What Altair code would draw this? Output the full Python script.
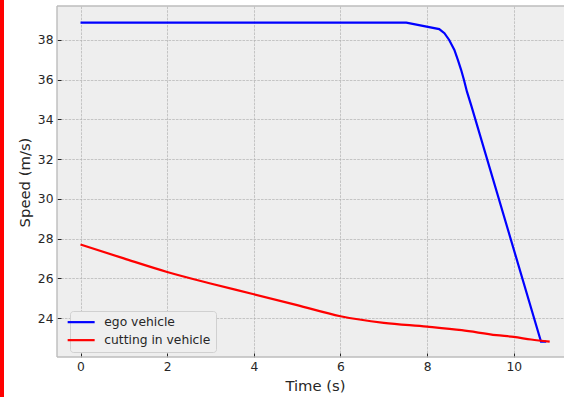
import altair as alt
import pandas as pd

# Speed traces (time in s, speed in m/s)
ego_time = [0, 7.52, 8.28, 8.40, 8.51, 8.63, 8.71, 8.785, 8.85, 8.92, 9.02, 10.63, 10.75]
ego_speed = [38.87, 38.87, 38.55, 38.34, 38.0, 37.5, 37.0, 36.5, 36.0, 35.4, 34.7, 22.82, 22.82]

cut_time = [0, 1, 2, 3, 4, 5, 6, 7, 8, 8.8, 9.6, 10, 10.4, 10.83]
cut_speed = [27.71, 27.01, 26.33, 25.75, 25.21, 24.66, 24.10, 23.77, 23.58, 23.40, 23.15, 23.06, 22.93, 22.82]

series_names = ["ego vehicle", "cutting in vehicle"]
series_colors = ["#0000ff", "#ff0000"]
x_ticks = [0, 2, 4, 6, 8, 10]
y_ticks = [24, 26, 28, 30, 32, 34, 36, 38]

ego_df = pd.DataFrame({"t": ego_time, "v": ego_speed, "series": series_names[0]})
cut_df = pd.DataFrame({"t": cut_time, "v": cut_speed, "series": series_names[1]})

W, H = 507, 351
FONT = "DejaVu Sans"
TXT = "#262626"

x_axis = alt.Axis(
    values=x_ticks, offset=-4, domain=False, tickSize=4, tickColor=TXT, tickWidth=1,
    labelPadding=3, labelFontSize=12.3, labelColor=TXT, labelFont=FONT,
    grid=True, gridColor="#b2b2b2", gridDash=[2.6, 1.1], gridWidth=0.7,
    title="Time (s)", titleFontSize=14.8, titleFontWeight="normal", titleColor=TXT, titleFont=FONT,
    titleX=258, titleY=37, titleBaseline="alphabetic", titleAlign="center",
)
y_axis = alt.Axis(
    values=y_ticks, offset=-4, domain=False, tickSize=4, tickColor=TXT, tickWidth=1,
    labelPadding=4, labelFontSize=12.3, labelColor=TXT, labelFont=FONT,
    grid=True, gridColor="#b2b2b2", gridDash=[2.6, 1.1], gridWidth=0.7,
    title="Speed (m/s)", titleFontSize=14.8, titleFontWeight="normal", titleColor=TXT, titleFont=FONT,
    titleX=-32, titleY=176, titleAngle=-90, titleBaseline="alphabetic", titleAlign="center",
)

x_enc = alt.X("t:Q", scale=alt.Scale(domain=[-0.5425, 11.16], nice=False, zero=False), axis=x_axis)
y_enc = alt.Y("v:Q", scale=alt.Scale(domain=[22.05, 39.71], nice=False, zero=False), axis=y_axis)
color_enc = alt.Color(
    "series:N",
    scale=alt.Scale(domain=series_names, range=series_colors),
    legend=alt.Legend(
        title=None, orient="none", legendX=13, legendY=305,
        symbolType="M-3,0H3", symbolSize=81, symbolStrokeWidth=2.2,
        labelFontSize=12.3, labelFont=FONT, labelColor=TXT, labelOffset=17,
        padding=5, rowPadding=5, fillColor="#efefef", strokeColor="#d0d0d0",
        cornerRadius=3,
    ),
)

ego_line = alt.Chart(ego_df).mark_line(strokeWidth=2.2).encode(
    x=x_enc, y=y_enc, color=color_enc, order="t:Q")
cut_line = alt.Chart(cut_df).mark_line(strokeWidth=2.2, interpolate="monotone").encode(
    x=x_enc, y=y_enc, color=color_enc, order="t:Q")

frame_color = "#bcbcbc"
one = pd.DataFrame({"k": [0]})
left_spine = alt.Chart(one).mark_rule(color=frame_color, strokeWidth=1.4).encode(
    x=alt.value(0), y=alt.value(0), y2=alt.value(H))
top_spine = alt.Chart(one).mark_rule(color=frame_color, strokeWidth=1.4).encode(
    x=alt.value(0), x2=alt.value(W), y=alt.value(0))
bottom_spine = alt.Chart(one).mark_rule(color=frame_color, strokeWidth=1.4).encode(
    x=alt.value(0), x2=alt.value(W), y=alt.value(H))
side_bar = alt.Chart(one).mark_rect(color="#ff0000").encode(
    x=alt.value(-57), x2=alt.value(-53), y=alt.value(-6), y2=alt.value(H + 46))

chart = alt.layer(ego_line, cut_line, left_spine, top_spine, bottom_spine, side_bar).properties(
    width=W, height=H,
    autosize=alt.AutoSizeParams(type="none"),
    padding={"left": 57, "top": 6, "right": 0, "bottom": 40},
    background="white",
).configure_view(fill="#eeeeee", stroke=None)

chart.save("out.html", embed_options={"renderer": "svg", "actions": False})
